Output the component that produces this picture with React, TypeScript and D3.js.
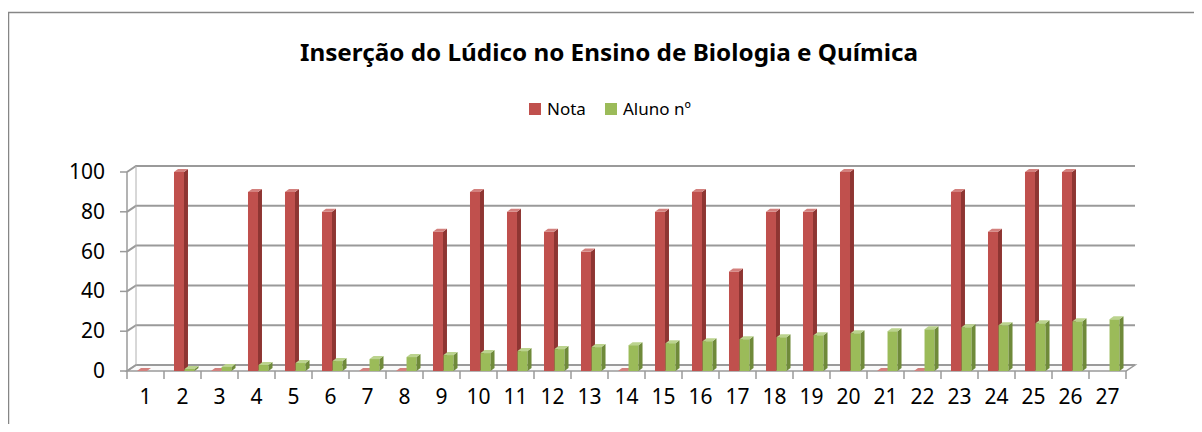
import React from "react";
import * as d3 from "d3";

const categories = ["1","2","3","4","5","6","7","8","9","10","11","12","13","14","15","16","17","18","19","20","21","22","23","24","25","26","27"];
const nota: (number | null)[] = [0,100,0,90,90,80,0,0,70,90,80,70,60,0,80,90,50,80,80,100,0,0,90,70,100,100,null];
const aluno: (number | null)[] = [null,1,2,3,4,5,6,7,8,9,10,11,12,13,14,15,16,17,18,19,20,21,22,23,24,25,26];
const yTicks = [0, 20, 40, 60, 80, 100];

const series = [
  { name: "Nota", values: nota, front: "#C0504D", side: "#8E3532", top: "#D3807D" },
  { name: "Aluno nº", values: aluno, front: "#9BBB59", side: "#6F8A3A", top: "#BBD38E" },
];

const FONT = "'Noto Sans', 'Liberation Sans', sans-serif";

const App = () => {
  const left = 127, right = 1126, floorY = 371, topY = 172;
  const DX = 9, DY = -6; // wall depth
  const bx = 4, by = -3; // bar depth

  const x = d3.scaleBand<string>().domain(categories).range([left, right]).paddingInner(0);
  const y = d3.scaleLinear().domain([0, 100]).range([floorY, topY]);
  const bw = x.bandwidth();
  const barW = bw * 0.27;

  const bar = (x0: number, v: number, c: typeof series[0], key: string) => {
    const yt = y(v), y0 = y(0);
    return (
      <g key={key}>
        {v > 0 && <rect x={x0} y={yt} width={barW} height={y0 - yt} fill={c.front} />}
        {v > 0 && (
          <polygon
            points={`${x0 + barW},${yt} ${x0 + barW + bx},${yt + by} ${x0 + barW + bx},${y0 + by} ${x0 + barW},${y0}`}
            fill={c.side}
          />
        )}
        <polygon
          points={`${x0},${yt} ${x0 + bx},${yt + by} ${x0 + barW + bx},${yt + by} ${x0 + barW},${yt}`}
          fill={c.top}
        />
      </g>
    );
  };

  return (
    <svg width={1186} height={416} style={{ display: "block", fontFamily: FONT }}>
      <g transform="translate(-8,-8)">
        {/* outer frame */}
        <rect x={8.5} y={12.5} width={1250} height={500} fill="#fff" stroke="#868686" strokeWidth={1.5} />

        <text x={609} y={61} textAnchor="middle" fontWeight="bold" fontSize={24} textLength={618} lengthAdjust="spacingAndGlyphs" fill="#000">
          Inserção do Lúdico no Ensino de Biologia e Química
        </text>

        {/* legend */}
        <rect x={529} y={103} width={12} height={12} fill={series[0].front} />
        <text x={547} y={115} fontSize={17} fill="#000">Nota</text>
        <rect x={605} y={103} width={12} height={12} fill={series[1].front} />
        <text x={623} y={115} fontSize={17} fill="#000">Aluno nº</text>

        {/* floor */}
        <polygon
          points={`${left},${floorY} ${right},${floorY} ${right + DX},${floorY + DY} ${left + DX},${floorY + DY}`}
          fill="#fafafa" stroke="#9a9a9a" strokeWidth={1.5}
        />

        {/* gridlines */}
        {yTicks.map(t => (
          <g key={t}>
            <polyline
              points={`${left},${y(t)} ${left + DX},${y(t) + DY} ${right + DX},${y(t) + DY}`}
              fill="none" stroke="#9a9a9a" strokeWidth={2}
            />
            <line x1={left - 7} x2={left} y1={y(t)} y2={y(t)} stroke="#9a9a9a" strokeWidth={1.5} />
            <text x={105} y={y(t) + 7} textAnchor="end" fontSize={21} fill="#000">{t}</text>
          </g>
        ))}
        <line x1={left} x2={left} y1={y(100)} y2={floorY} stroke="#9a9a9a" strokeWidth={1.5} />
        <line x1={left + DX} x2={left + DX} y1={y(100) + DY} y2={floorY + DY} stroke="#b0b0b0" strokeWidth={1} />

        {/* category ticks & labels */}
        {categories.map((c, i) => (
          <line key={"t" + c} x1={left + i * bw} x2={left + i * bw} y1={floorY} y2={floorY + 8} stroke="#9a9a9a" strokeWidth={1.5} />
        ))}
        <line x1={right} x2={right} y1={floorY} y2={floorY + 8} stroke="#9a9a9a" strokeWidth={1.5} />
        {categories.map(c => (
          <text key={"l" + c} x={(x(c) as number) + bw / 2} y={404} textAnchor="middle" fontSize={21} fill="#000">{c}</text>
        ))}

        {/* bars */}
        {categories.map((c, i) => {
          const x0 = x(c) as number;
          return (
            <g key={"b" + c}>
              {nota[i] != null && bar(x0 + bw * 0.27, nota[i] as number, series[0], "n")}
              {aluno[i] != null && bar(x0 + bw * 0.555, aluno[i] as number, series[1], "a")}
            </g>
          );
        })}
      </g>
    </svg>
  );
};

export default App;
